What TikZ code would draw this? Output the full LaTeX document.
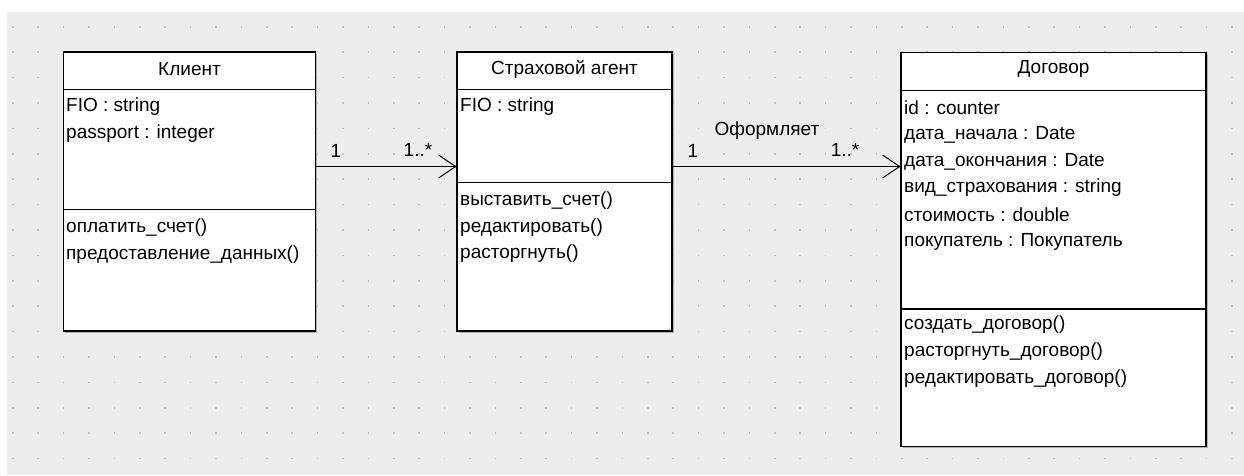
\documentclass[tikz,border=0pt]{standalone}
\usepackage{fontspec}
\setmainfont{Liberation Sans}
\usetikzlibrary{arrows.meta,shadows}
\definecolor{canvasgray}{HTML}{EDEDED}
\definecolor{gridgray}{HTML}{C4C4C4}
\tikzset{
  classbox/.style={draw=black, line width=1.1pt, fill=white, rectangle,
    drop shadow={shadow xshift=1.5pt, shadow yshift=-1.5pt, fill=black!45, opacity=0.6}},
  member/.style={anchor=west, inner sep=0pt},
  title/.style={inner sep=0pt},
  mult/.style={inner sep=0pt},
  assoc/.style={line width=1pt, -{Straight Barb[length=17pt,width=23pt,line width=1pt]}},
}
\begin{document}
\begin{tikzpicture}[x=1pt, y=-1pt, font=\fontsize{19}{22}\selectfont]
    \useasboundingbox (0,0) rectangle (1244,475);
    \fill[canvasgray] (7,12) rectangle (1244,475);
    \foreach \i in {0,...,48}
      \foreach \j in {0,...,17}
        \fill[gridgray] (12+25.4*\i,26+25.4*\j) rectangle ++(1.6,1.6);

    \node[classbox, minimum width=252pt, minimum height=279pt] (klient) at (189.5,191.5) {};
    \draw[line width=1.1pt] (63.5,89.5) -- (315.5,89.5);
    \draw[line width=1.1pt] (63.5,209.5) -- (315.5,209.5);
    \node[title] (klient-name) at (189.5,69) {Клиент};
    \node[member] (klient-a1) at (66,107) {FIO : string};
    \node[member] (klient-a2) at (66,134) {passport : integer};
    \node[member] (klient-o1) at (66,228) {оплатить\_счет()};
    \node[member] (klient-o2) at (66,255) {предоставление\_данных()};

    \node[classbox, minimum width=215pt, minimum height=279pt] (agent) at (564.5,191.5) {};
    \draw[line width=1.1pt] (457,89.5) -- (672,89.5);
    \draw[line width=1.1pt] (457,182.5) -- (672,182.5);
    \node[title] (agent-name) at (564.5,69) {Страховой агент};
    \node[member] (agent-a1) at (460,107) {FIO : string};
    \node[member] (agent-o1) at (460,201) {выставить\_счет()};
    \node[member] (agent-o2) at (460,228) {редактировать()};
    \node[member] (agent-o3) at (460,254) {расторгнуть()};

    \node[classbox, minimum width=305pt, minimum height=394pt] (dogovor) at (1053.5,249.5) {};
    \draw[line width=1.1pt] (901,90.5) -- (1206,90.5);
    \draw[line width=1.1pt] (901,309) -- (1206,309);
    \node[title] (dogovor-name) at (1053.5,69) {Договор};
    \node[member] (dogovor-a1) at (904,108) {id : counter};
    \node[member] (dogovor-a2) at (904,135) {дата\_начала : Date};
    \node[member] (dogovor-a3) at (904,162) {дата\_окончания : Date};
    \node[member] (dogovor-a4) at (904,188) {вид\_страхования : string};
    \node[member] (dogovor-a5) at (904,215) {стоимость : double};
    \node[member] (dogovor-a6) at (904,242) {покупатель : Покупатель};
    \node[member] (dogovor-o1) at (904,325) {создать\_договор()};
    \node[member] (dogovor-o2) at (904,352) {расторгнуть\_договор()};
    \node[member] (dogovor-o3) at (904,379) {редактировать\_договор()};

    \draw[assoc] ([yshift=25pt]klient.east) -- ([yshift=25pt]agent.west);
    \fill ([yshift=25pt]agent.west) circle (1.6pt);
    \node[mult] (m1) at (336,151) {1};
    \node[mult] (m2) at (418,150) {1..*};

    \draw[assoc] ([yshift=25pt]agent.east) -- ([yshift=83pt]dogovor.west);
    \fill ([yshift=83pt]dogovor.west) circle (1.6pt);
    \node[title] (oformlyaet) at (767,131) {Оформляет};
    \node[mult] (m3) at (693,151) {1};
    \node[mult] (m4) at (845,150) {1..*};
\end{tikzpicture}
\end{document}
